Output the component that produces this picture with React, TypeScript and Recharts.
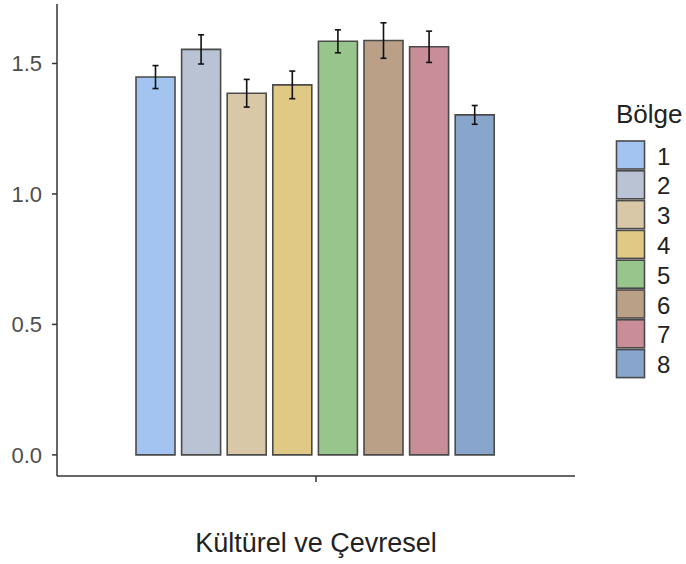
import React from 'react';
import { BarChart, Bar, XAxis, YAxis, ErrorBar } from 'recharts';

const categories = ['Kültürel ve Çevresel'];
const regions = ['1', '2', '3', '4', '5', '6', '7', '8'];
const means = [1.448, 1.554, 1.386, 1.418, 1.585, 1.588, 1.564, 1.303];
const errors = [0.044, 0.056, 0.053, 0.053, 0.044, 0.068, 0.06, 0.036];
const colors = ['#a3c3f0', '#b9c3d3', '#d8c8a8', '#dfc985', '#97c58b', '#b9a087', '#c98d97', '#88a6cb'];
const yTicks = [0, 0.5, 1.0, 1.5];
const legendTitle = 'Bölge';

const data = categories.map((c) => {
  const row: Record<string, string | number> = { name: c };
  regions.forEach((r, i) => {
    row['m' + r] = means[i];
    row['e' + r] = errors[i];
  });
  return row;
});

const FONT = '"Liberation Sans", Arial, Helvetica, sans-serif';

export default function App() {
  return (
    <div
      style={{
        position: 'absolute',
        left: 0,
        top: 0,
        width: 686,
        height: 564,
        background: '#ffffff',
        fontFamily: FONT,
      }}
    >
      <BarChart
        width={686}
        height={564}
        data={data}
        margin={{ top: 4, right: 111, left: 0, bottom: 0 }}
        barCategoryGap={79}
        barGap={6.6}
        style={{ fontFamily: FONT }}
      >
        <XAxis
          dataKey="name"
          height={88}
          tickFormatter={() => ''}
          tickSize={6}
          axisLine={{ stroke: '#333333', strokeWidth: 1.5 }}
          tickLine={{ stroke: '#333333', strokeWidth: 1.5 }}
          label={{
            value: categories[0],
            position: 'insideBottom',
            offset: 12,
            fill: '#222222',
            fontSize: 27,
            fontFamily: FONT,
          }}
        />
        <YAxis
          width={57}
          type="number"
          domain={[-0.081, 1.728]}
          allowDataOverflow
          ticks={yTicks}
          tickFormatter={(v: number) => v.toFixed(1)}
          tickSize={5}
          tickMargin={10}
          tick={{ fill: '#4d4d4d', fontSize: 22, fontFamily: FONT }}
          axisLine={{ stroke: '#333333', strokeWidth: 1.5 }}
          tickLine={{ stroke: '#333333', strokeWidth: 1.5 }}
        />
        {regions.map((r, i) => (
          <Bar
            key={r}
            dataKey={'m' + r}
            name={r}
            fill={colors[i]}
            stroke="#4a4a4a"
            strokeWidth={1.6}
            isAnimationActive={false}
          >
            <ErrorBar
              dataKey={'e' + r}
              width={3}
              stroke="#111111"
              strokeWidth={1.6}
              direction="y"
              isAnimationActive={false}
            />
          </Bar>
        ))}
      </BarChart>
      <svg
        width={686}
        height={564}
        style={{ position: 'absolute', left: 0, top: 0, pointerEvents: 'none' }}
      >
        <text x={616} y={123} fontSize={26} fill="#222222" fontFamily={FONT}>
          {legendTitle}
        </text>
        {regions.map((r, i) => {
          const top = 141 + i * 29.8;
          return (
            <g key={r}>
              <rect
                x={616.5}
                y={top}
                width={28}
                height={28}
                fill={colors[i]}
                stroke="#4a4a4a"
                strokeWidth={1.6}
              />
              <text x={657} y={top + 23.5} fontSize={24} fill="#222222" fontFamily={FONT}>
                {r}
              </text>
            </g>
          );
        })}
      </svg>
    </div>
  );
}
